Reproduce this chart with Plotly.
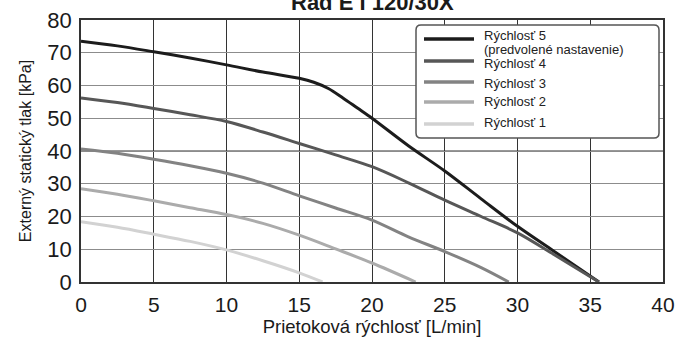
import plotly.graph_objects as go

# Pump curves: external static pressure vs. flow rate for each speed step
speed_names = ["Rýchlosť 5", "Rýchlosť 4", "Rýchlosť 3", "Rýchlosť 2", "Rýchlosť 1"]
default_note = "(predvolené nastavenie)"

flow_5 = [0, 2.5, 5, 7.5, 10, 12.5, 15, 16, 17, 18, 19, 20, 22.5, 25, 27.5, 30, 32.5, 35.6]
pressure_5 = [73.5, 72.1, 70.3, 68.4, 66.3, 64.1, 62.2, 61.0, 59.1, 56.2, 53.1, 50.0, 41.6, 33.9, 25.4, 17.0, 9.4, 0]

flow_4 = [0, 2.5, 5, 7.5, 10, 12.5, 15, 17.5, 20, 22.5, 25, 27.5, 30, 32.5, 35.6]
pressure_4 = [56.2, 54.8, 53.0, 51.1, 49.0, 45.8, 42.3, 38.8, 35.2, 30.3, 25.0, 20.0, 15.0, 8.4, 0]

flow_3 = [0, 2.5, 5, 7.5, 10, 12.5, 15, 17.5, 20, 22.5, 25, 27.5, 29.4]
pressure_3 = [40.6, 39.3, 37.5, 35.5, 33.2, 30.2, 26.3, 22.6, 18.9, 13.8, 9.3, 4.4, 0]

flow_2 = [0, 2.5, 5, 7.5, 10, 12.5, 15, 17.5, 20, 23.0]
pressure_2 = [28.5, 26.8, 24.8, 22.7, 20.6, 17.9, 14.3, 10.1, 5.8, 0]

flow_1 = [0, 2.5, 5, 7.5, 10, 12.5, 15, 16.6]
pressure_1 = [18.4, 16.7, 14.6, 12.4, 9.8, 6.5, 2.8, 0]

x_ticks = [0, 5, 10, 15, 20, 25, 30, 35, 40]
y_ticks = [0, 10, 20, 30, 40, 50, 60, 70, 80]

line_colors = ["#1c1c1c", "#575757", "#838383", "#ababab", "#d2d2d2"]

series = [(flow_5, pressure_5), (flow_4, pressure_4), (flow_3, pressure_3),
          (flow_2, pressure_2), (flow_1, pressure_1)]

FONT = "Liberation Sans, Arial, sans-serif"
DARK_GRID = "#333333"
LIGHT_GRID = "#8c8c8c"

# plot area in pixels (used to place the legend box in paper units)
L, R, T, B = 81, 15, 20, 60
W, H = 678, 342
PW, PH = W - L - R, H - T - B


def px_x(px):
    return (px - L) / PW


def px_y(py):
    return (H - B - py) / PH


fig = go.Figure()

# darker horizontal lines on every second division (odd ones use the lighter axis grid)
for yv in y_ticks[2:-1:2]:
    fig.add_shape(type="line", xref="x", x0=x_ticks[0], x1=x_ticks[-1],
                  yref="y", y0=yv, y1=yv,
                  line=dict(color=DARK_GRID, width=1.2), layer="below")

for name, (xs, ys), color in zip(speed_names, series, line_colors):
    fig.add_trace(go.Scatter(
        x=xs, y=ys, name=name, mode="lines", showlegend=False,
        line=dict(color=color, width=3, shape="spline", smoothing=0.9),
        hoverinfo="skip",
    ))

# legend box with rounded corners
bx0, bx1, by0, by1 = px_x(416), px_x(659), px_y(138), px_y(25)
rx, ry = 5 / PW, 5 / PH
fig.add_shape(
    type="path", xref="paper", yref="paper",
    path=(f"M{bx0 + rx},{by0} L{bx1 - rx},{by0} Q{bx1},{by0} {bx1},{by0 + ry} "
          f"L{bx1},{by1 - ry} Q{bx1},{by1} {bx1 - rx},{by1} "
          f"L{bx0 + rx},{by1} Q{bx0},{by1} {bx0},{by1 - ry} "
          f"L{bx0},{by0 + ry} Q{bx0},{by0} {bx0 + rx},{by0} Z"),
    fillcolor="white", line=dict(color="#555555", width=1.5), layer="above",
)

# legend entries: line sample + label
sample_rows = [39, 61, 82, 102, 124]
label_rows = [35.5, 64, 83, 102, 122]
for name, color, sy, ty in zip(speed_names, line_colors, sample_rows, label_rows):
    fig.add_shape(type="line", xref="paper", yref="paper",
                  x0=px_x(424), x1=px_x(474), y0=px_y(sy), y1=px_y(sy),
                  line=dict(color=color, width=3.5), layer="above")
    fig.add_annotation(text=name, xref="paper", yref="paper", x=px_x(482), y=px_y(ty),
                       xanchor="left", yanchor="middle", showarrow=False,
                       font=dict(family=FONT, size=13, color="#222222"))
fig.add_annotation(text=default_note, xref="paper", yref="paper", x=px_x(482), y=px_y(49.5),
                   xanchor="left", yanchor="middle", showarrow=False,
                   font=dict(family=FONT, size=13, color="#222222"))

fig.add_annotation(
    text="<b>Rad E I 120/30X</b>", xref="paper", yref="paper",
    x=0.5015, y=1.067, xanchor="center", yanchor="middle", showarrow=False,
    font=dict(family=FONT, size=22, color="#1a1a1a"),
)

fig.update_layout(
    width=W, height=H,
    margin=dict(l=L, r=R, t=T, b=B, autoexpand=False),
    paper_bgcolor="white", plot_bgcolor="white",
    font=dict(family=FONT, color="#1a1a1a"),
    showlegend=False,
    xaxis=dict(
        range=[0, 40], tickmode="array", tickvals=x_ticks, automargin=False,
        showgrid=True, gridcolor=DARK_GRID, gridwidth=1.2,
        showline=True, mirror=True, linecolor="#333333", linewidth=1.5,
        ticks="outside", ticklen=3, tickcolor="rgba(0,0,0,0)", zeroline=False,
        tickfont=dict(family=FONT, size=21, color="#1a1a1a"),
        title=dict(text="Prietoková rýchlosť [L/min]", standoff=5,
                   font=dict(family=FONT, size=18.5, color="#1a1a1a")),
    ),
    yaxis=dict(
        range=[0, 80], tickmode="array", tickvals=y_ticks, automargin=False,
        showgrid=True, gridcolor=LIGHT_GRID, gridwidth=1.2,
        showline=True, mirror=True, linecolor="#333333", linewidth=1.5,
        ticks="outside", ticklen=3, tickcolor="rgba(0,0,0,0)", zeroline=False,
        tickfont=dict(family=FONT, size=22, color="#1a1a1a"),
        title=dict(text="Externý statický tlak [kPa]", standoff=12,
                   font=dict(family=FONT, size=16, color="#1a1a1a")),
    ),
)

fig.write_html("out.html")
